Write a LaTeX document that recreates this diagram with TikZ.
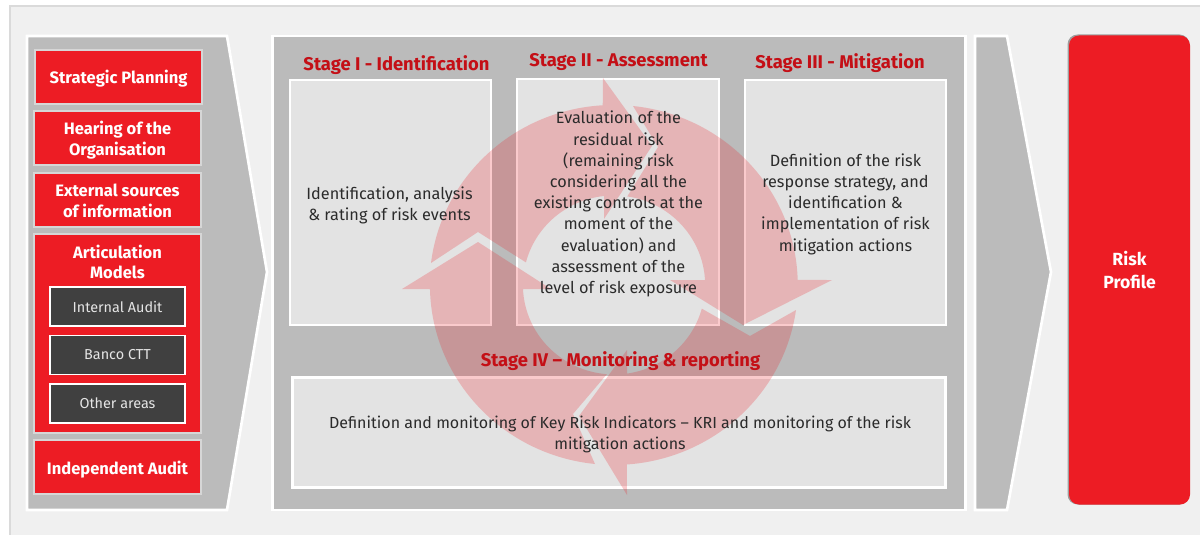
\documentclass[tikz,border=0pt]{standalone}
\usepackage{fontspec}
\setmainfont{Fira Sans}
\definecolor{panel}{HTML}{F0F0F0}
\definecolor{panelline}{HTML}{DADADA}
\definecolor{band}{HTML}{BBBBBB}
\definecolor{stagefill}{HTML}{E3E3E3}
\definecolor{brandred}{HTML}{ED1C24}
\definecolor{titlered}{HTML}{C40F16}
\definecolor{darkbox}{HTML}{404040}
\definecolor{bodytext}{HTML}{2B2B2B}
\tikzset{
  sz/.style 2 args={minimum width=#1*0.75pt,minimum height=#2*0.75pt},
  base/.style={rectangle,inner sep=0pt,outer sep=0pt},
  redbox/.style={base,fill=brandred,draw=band!60!white,line width=0.9pt},
  redlabel/.style={base,text=white,align=center,font=\bfseries\fontsize{12.4}{15.5}\selectfont},
  darkitem/.style={base,fill=darkbox,draw=white,line width=1.2pt,text=white!90!black,align=center,
    font=\fontsize{10.8}{14}\selectfont},
  stagebox/.style={base,fill=stagefill,draw=white,line width=2.2pt},
  stagetitle/.style={base,text=titlered,font=\bfseries\fontsize{13.8}{16}\selectfont},
  bodylabel/.style={base,text=bodytext,align=center,font=\fontsize{12.2}{15.9}\selectfont},
  bandshape/.style={fill=band,draw=white,line width=2pt,line join=miter},
  cyclearrow/.style={fill=brandred,fill opacity=0.23,draw=none},
  outerarc/.style={x radius=184,y radius=180},
  innerarc/.style={x radius=91,y radius=89.5},
}
\begin{document}
\begin{tikzpicture}[x=0.75pt,y=-0.75pt]
\useasboundingbox (0,0) rectangle (1200,535);
\fill[white] (0,0) rectangle (1200,535);
\fill[panel] (10,6) rectangle (1200,535);
\draw[panelline,line width=1.5pt] (10,535) -- (10,6) -- (1200,6);

% grey bands
\draw[bandshape] (27,36) -- (227,36) -- (267,272) -- (227,510) -- (27,510) -- cycle;
\node[base,fill=band,draw=white,line width=2pt,sz={693}{474}] (middle) at (619,273) {};
\draw[bandshape] (975,36) -- (1007,36) -- (1051,272) -- (1007,510) -- (975,510) -- cycle;

% risk profile
\node[base,fill=black!38,rounded corners=7.5pt,sz={122}{470}] (rpshadow) at (1128.5,269.5) {};
\node[base,fill=brandred,rounded corners=7.5pt,sz={121}{469},text=white,align=center,
  font=\bfseries\fontsize{13.2}{17}\selectfont] (risk) at (1129.5,270) {Risk\\Profile};

% left column
\node[redbox,sz={167}{54}] (planning) at (118.5,77) {};
\node[redlabel] (planninglabel) at (118.5,78.5) {Strategic Planning};
\node[redbox,sz={167}{54}] (hearing) at (117.5,138) {};
\node[redlabel] (hearinglabel) at (117.5,140) {Hearing of the\\Organisation};
\node[redbox,sz={167}{54}] (external) at (117.5,200) {};
\node[redlabel] (externallabel) at (117.5,201) {External sources\\of information};
\node[redbox,sz={167}{199}] (articulation) at (117.5,333.5) {};
\node[redlabel] (articlabel) at (117.5,262) {Articulation\\Models};
\node[darkitem,sz={135}{39}] (internal) at (117.5,306.5) {Internal Audit};
\node[darkitem,sz={135}{39}] (banco) at (117.5,355) {Banco CTT};
\node[darkitem,sz={135}{39}] (other) at (117.5,403.5) {Other areas};
\node[redbox,sz={167}{54}] (independent) at (117.5,467) {};
\node[redlabel] (independentlabel) at (117.5,469.5) {Independent Audit};

% stage boxes
\node[stagebox,sz={201}{245}] (s1) at (390.5,202.5) {};
\node[stagebox,sz={202}{246}] (s2) at (618,202) {};
\node[stagebox,sz={201}{245}] (s3) at (845.5,202.5) {};
\node[stagebox,sz={653}{110}] (s4) at (619,432.5) {};

% cycle arrows
\fill[cyclearrow] (431,263) arc[start angle=187,end angle=266.6,outerarc]
  -- (603,78) -- (652,146) -- (604,219) -- (604,196)
  arc[start angle=263.7,end angle=194.6,innerarc] -- (478,232) -- cycle;
\fill[cyclearrow] (633,106) arc[start angle=-84,end angle=-1.6,outerarc]
  -- (832,280) -- (743,325) -- (670,280) -- (705,280)
  arc[start angle=-3.2,end angle=-81.7,innerarc] -- (658,147) -- cycle;
\fill[cyclearrow] (796,310) arc[start angle=8,end angle=85.9,outerarc]
  -- (627,495) -- (579,416) -- (627,350) -- (627,373.6)
  arc[start angle=81.8,end angle=15.3,innerarc] -- (750,336) -- cycle;
\fill[cyclearrow] (595,464) arc[start angle=95.9,end angle=178.7,outerarc]
  -- (402,289) -- (478,242) -- (551,289) -- (523,289)
  arc[start angle=177.4,end angle=94.4,innerarc] -- (573,414) -- cycle;

% titles
\node[stagetitle] (t1) at (396.5,65) {Stage I - Identification};
\node[stagetitle] (t2) at (618.5,62) {Stage II - Assessment};
\node[stagetitle] (t3) at (840,63) {Stage III - Mitigation};
\node[stagetitle] (t4) at (620.5,361) {Stage IV – Monitoring \& reporting};

% body text
\node[bodylabel] (b1) at (389.5,205) {Identification, analysis\\\& rating of risk events};
\node[bodylabel] (b2) at (618.5,204) {Evaluation of the\\residual risk\\(remaining risk\\considering all the\\existing controls at the\\moment of the\\evaluation) and\\assessment of the\\level of risk exposure};
\node[bodylabel] (b3) at (845.5,204) {Definition of the risk\\response strategy, and\\identification \&\\implementation of risk\\mitigation actions};
\node[bodylabel,font=\fontsize{12}{15.9}\selectfont] (b4) at (620,434.5) {Definition and monitoring of Key Risk Indicators – KRI and monitoring of the risk\\mitigation actions};
\end{tikzpicture}
\end{document}
